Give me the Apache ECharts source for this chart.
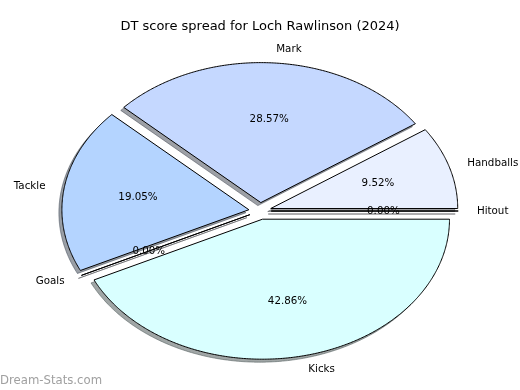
<!DOCTYPE html>
<html>
<head>
<meta charset="utf-8">
<script src="https://cdn.jsdelivr.net/npm/echarts@6/dist/echarts.min.js"></script>
<style>
html,body{margin:0;padding:0;background:#fff;}
#chart{width:520px;height:390px;}
</style>
</head>
<body>
<div id="chart"></div>
<script>
// ---- data ----
const categories = ['Hitout', 'Handballs', 'Mark', 'Tackle', 'Goals', 'Kicks'];
const scores = [0, 2, 6, 4, 0, 9];
const titleText = 'DT score spread for Loch Rawlinson (2024)';
const watermark = 'Dream-Stats.com';

// ---- styles ----
const sliceColors = ['#f0f4ff', '#e9f0ff', '#c5d8ff', '#b4d4ff', '#f0f4ff', '#d9ffff'];
const EXPLODE = 0.06, LABEL_DIST = 1.1, PCT_DIST = 0.6;
const FONT = 'DejaVu Sans';
const CX = 260, CY = 211, SX = 187, SY = 140;
const SHADOW_DX = -3, SHADOW_DY = 3;

const total = scores.reduce((a, b) => a + b, 0);
const starts = [];
let acc = 0;
scores.forEach(v => { starts.push(acc); acc += v; });

function hexToRgb(h) {
  const n = parseInt(h.slice(1), 16);
  return [(n >> 16) & 255, (n >> 8) & 255, n & 255];
}
function shadowColor(h) {
  const c = hexToRgb(h).map(x => Math.round(x * 0.3));
  return 'rgb(' + c.join(',') + ')';
}

function renderItem(params, api) {
  const i = params.dataIndex;
  const v = api.value(2);
  const t1 = starts[i] / total * 2 * Math.PI;
  const t2 = (starts[i] + v) / total * 2 * Math.PI;
  const mid = (t1 + t2) / 2;
  const ox = EXPLODE * Math.cos(mid), oy = EXPLODE * Math.sin(mid);
  const pts = [api.coord([ox, oy])];
  const n = Math.max(2, Math.ceil((t2 - t1) / (Math.PI / 360)) + 1);
  for (let k = 0; k < n; k++) {
    const t = t1 + (t2 - t1) * k / (n - 1);
    pts.push(api.coord([ox + Math.cos(t), oy + Math.sin(t)]));
  }
  const shadowPts = pts.map(p => [p[0] + SHADOW_DX, p[1] + SHADOW_DY]);
  const sc = shadowColor(sliceColors[i]);
  const lx = ox + LABEL_DIST * Math.cos(mid), ly = oy + LABEL_DIST * Math.sin(mid);
  const lp = api.coord([lx, ly]);
  const pp = api.coord([ox + PCT_DIST * Math.cos(mid), oy + PCT_DIST * Math.sin(mid)]);
  const pct = (v / total * 100).toFixed(2) + '%';
  return {
    type: 'group',
    children: [
      { type: 'polygon', z2: 1, shape: { points: shadowPts },
        style: { fill: sc, stroke: sc, lineWidth: 1, opacity: 0.5 } },
      { type: 'polygon', z2: 10, shape: { points: pts },
        style: { fill: sliceColors[i], stroke: '#000', lineWidth: 1 } },
      { type: 'text', z2: 20, x: lp[0], y: lp[1],
        style: { text: categories[i], fill: '#000', font: '10.3px "' + FONT + '"',
                 align: lx >= 0 ? 'left' : 'right', verticalAlign: 'middle' } },
      { type: 'text', z2: 20, x: pp[0], y: pp[1],
        style: { text: pct, fill: '#000', font: '10.3px "' + FONT + '"',
                 align: 'center', verticalAlign: 'middle' } }
    ]
  };
}

const chart = echarts.init(document.getElementById('chart'));
chart.setOption({
  animation: false,
  backgroundColor: '#fff',
  title: {
    text: titleText, left: 'center', top: 20, padding: 0,
    textStyle: { fontFamily: FONT, fontSize: 13, fontWeight: 'normal', color: '#000' }
  },
  grid: { left: CX - 1.2 * SX, width: 2.4 * SX, top: CY - 1.2 * SY, height: 2.4 * SY },
  xAxis: { type: 'value', min: -1.2, max: 1.2, show: false },
  yAxis: { type: 'value', min: -1.2, max: 1.2, show: false },
  graphic: [{
    type: 'text', left: 0, top: 375,
    style: { text: watermark, fill: '#a0a0a0', font: '11.7px "' + FONT + '"' }
  }],
  series: [{
    type: 'custom',
    coordinateSystem: 'cartesian2d',
    clip: false,
    dimensions: ['x', 'y', 'score'],
    encode: { x: 0, y: 1 },
    renderItem: renderItem,
    data: scores.map((v, i) => ({ name: categories[i], value: [0, 0, v] }))
  }]
});
</script>
</body>
</html>
